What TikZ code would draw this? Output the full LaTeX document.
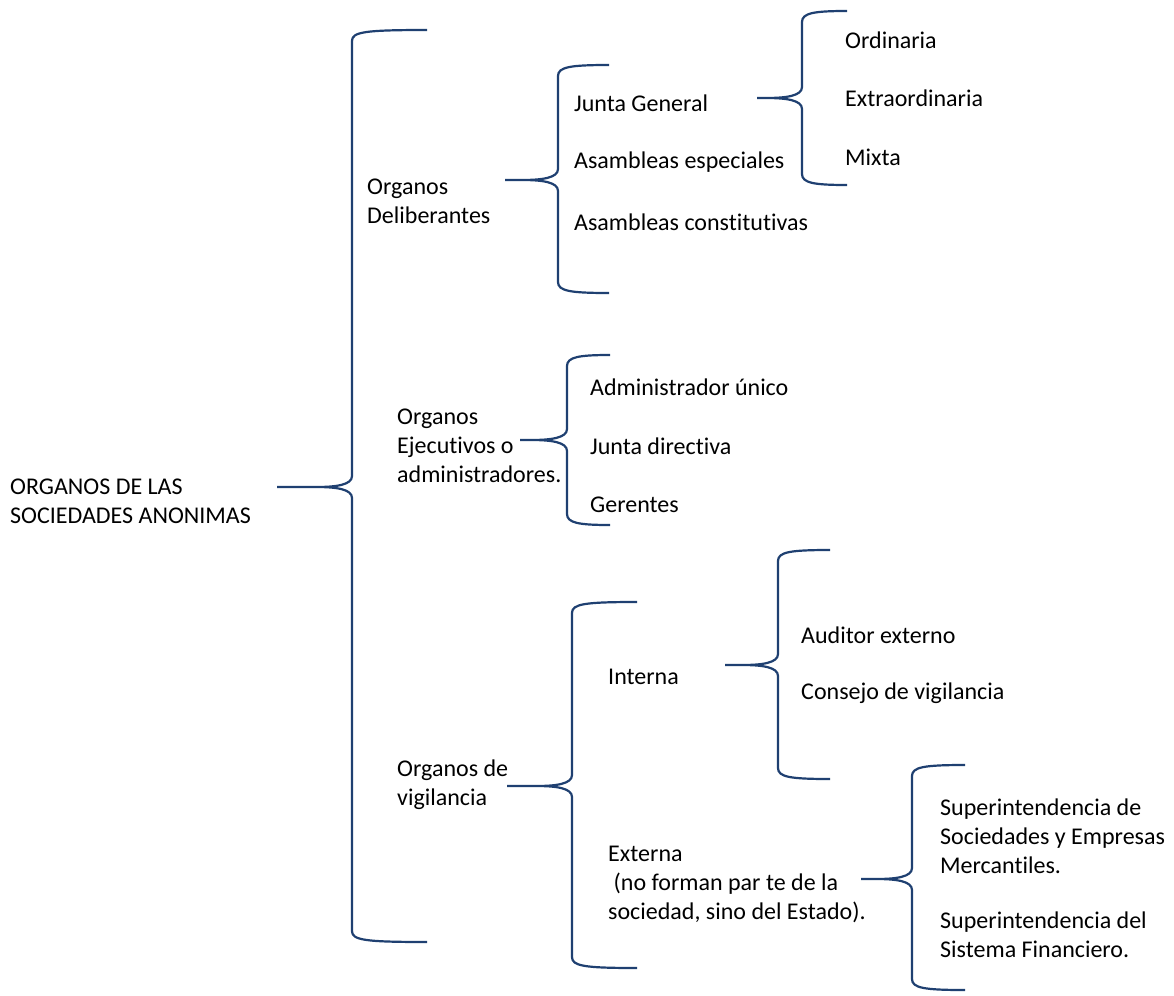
\documentclass[tikz,border=0pt]{standalone}
\usepackage{fontspec}
\setmainfont{Carlito}[Ligatures=NoCommon]
\definecolor{llaveazul}{RGB}{31,64,113}
% llave: tip x, mid y, vertical x, top y, bottom y, end x
\newcommand{\llave}[6]{\draw[llave] (#1,#2) -- (#3-36,#2) .. controls (#3-16,#2) and (#3,#2-2) .. (#3,#2-11) -- (#3,#4+11) .. controls (#3,#4+2) and (#3+12,#4) .. (#6,#4) (#1,#2) -- (#3-36,#2) .. controls (#3-16,#2) and (#3,#2+2) .. (#3,#2+11) -- (#3,#5-11) .. controls (#3,#5-2) and (#3+12,#5) .. (#6,#5);}
\tikzset{
  texto/.style = {anchor=west, inner sep=0pt, align=left, font=\fontsize{24}{29}\selectfont},
  llave/.style = {draw=llaveazul, line width=2.2pt, line join=round}
}
\begin{document}
\begin{tikzpicture}[x=1pt, y=-1pt]
\useasboundingbox[fill=white] (0,0) rectangle (1174,995);
\node[texto] (raiz) at (10,501) {ORGANOS DE LAS\\SOCIEDADES ANONIMAS};
\llave{277}{487}{352}{30}{942}{427};
% deliberantes
\node[texto] (delib) at (367,201) {Organos\\Deliberantes};
\llave{505}{180}{558}{65}{293}{609};
\node[texto] (junta) at (574,103) {Junta General};
\node[texto] (especiales) at (574,162) {Asambleas especiales};
\node[texto] (constit) at (574,222) {Asambleas constitutivas};
\llave{757}{98}{802}{11}{185}{847};
\node[texto] (ordinaria) at (845,40) {Ordinaria};
\node[texto] (extra) at (845,98) {Extraordinaria};
\node[texto] (mixta) at (845,157) {Mixta};
% ejecutivos
\node[texto] (ejec) at (397,446) {Organos\\Ejecutivos o\\administradores.};
\llave{520}{440}{567}{355}{525}{610};
\node[texto] (admin) at (590,387) {Administrador único};
\node[texto] (directiva) at (590,446) {Junta directiva};
\node[texto] (gerentes) at (590,505) {Gerentes};
% vigilancia
\node[texto] (vigil) at (397,785) {Organos de\\vigilancia};
\llave{507}{786}{572}{602}{968}{637};
\node[texto] (interna) at (608,677) {Interna};
\llave{725}{665}{778}{550}{779}{830};
\node[texto] (auditor) at (801,635) {Auditor externo};
\node[texto] (consejo) at (801,693) {Consejo de vigilancia};
\node[texto] (externa) at (608,884) {Externa\\\ (no forman par te de la\\sociedad, sino del Estado).};
\llave{861}{879}{912}{765}{990}{965};
\node[texto] (superSoc) at (940,836) {Superintendencia de\\Sociedades y Empresas\\Mercantiles.};
\node[texto] (superFin) at (940,935) {Superintendencia del\\Sistema Financiero.};
\end{tikzpicture}
\end{document}
